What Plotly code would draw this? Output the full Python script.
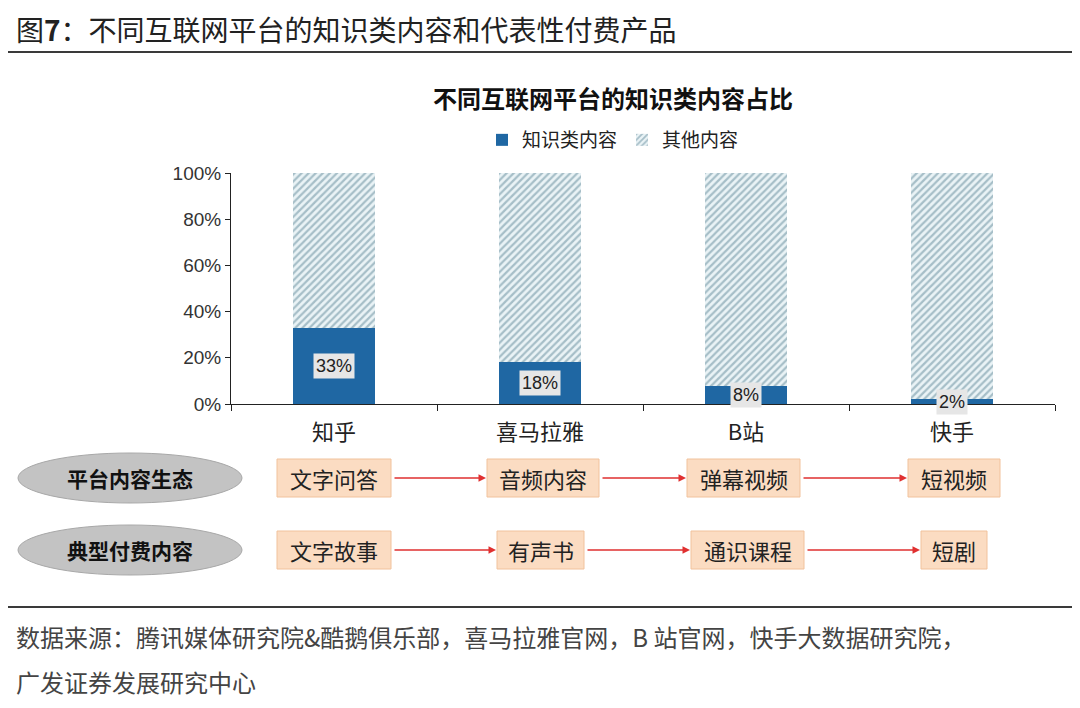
import plotly.graph_objects as go

# 数据
platforms = ["知乎", "喜马拉雅", "B站", "快手"]
knowledge = [0.33, 0.18, 0.08, 0.02]
others = [0.67, 0.82, 0.92, 0.98]
knowledge_labels = ["33%", "18%", "8%", "2%"]

row_titles = ["平台内容生态", "典型付费内容"]
eco_items = ["文字问答", "音频内容", "弹幕视频", "短视频"]
paid_items = ["文字故事", "有声书", "通识课程", "短剧"]

source_lines = [
    "数据来源：腾讯媒体研究院&酷鹅俱乐部，喜马拉雅官网，B 站官网，快手大数据研究院，",
    "广发证券发展研究中心",
]

CJK = "Noto Sans CJK SC"
BLUE = "#1f67a3"
HATCH = "#62899a"

# the page body has an 8px margin, so the figure is drawn 8px smaller
OFF = 8
FW, FH = 1080 - OFF, 708 - OFF

# plot area in reference pixels
L, R, T, B = 231, 1055, 173, 404
W, H = R - L, B - T


def px(x):
    return (x - L) / W


def py(y):
    return (B - y) / H


fig = go.Figure()
fig.add_trace(go.Bar(x=platforms, y=knowledge, name="知识类内容",
                     marker=dict(color=BLUE, line=dict(width=0)), width=0.4))
fig.add_trace(go.Bar(x=platforms, y=others, name="其他内容", width=0.4,
                     marker=dict(color="#eaf3f6", line=dict(width=0),
                                 pattern=dict(shape="/", fgcolor=HATCH, bgcolor="#eaf3f6",
                                              size=5, solidity=0.45))))

# data labels with grey box
for p, v, t in zip(platforms, knowledge, knowledge_labels):
    fig.add_annotation(x=p, y=v / 2, xref="x", yref="y", text=t, showarrow=False,
                       xanchor="center", yanchor="middle",
                       bgcolor="#e6e6e6", borderpad=2,
                       font=dict(family="Liberation Sans", size=18, color="#222"))

shapes = []
# header and footer rules
for y in (52, 607):
    shapes.append(dict(type="line", xref="paper", yref="paper", x0=px(0), x1=px(1080),
                       y0=py(y), y1=py(y), line=dict(color="#3a3a3a", width=2)))


def note(x, y, text, size, color="#222", anchor="center"):
    fig.add_annotation(xref="paper", yref="paper", x=px(x), y=py(y), xanchor=anchor,
                       yanchor="middle", showarrow=False, text=text,
                       font=dict(family=CJK, size=size, color=color))


note(14, 29, "图<b>7</b>：不同互联网平台的知识类内容和代表性付费产品", 28, "#222", "left")
note(613, 97, "<b>不同互联网平台的知识类内容占比</b>", 24, "#111")

# lower diagram: ellipses with row titles
row_y = [478, 550]
for title, yc in zip(row_titles, row_y):
    shapes.append(dict(type="circle", xref="paper", yref="paper",
                       x0=px(18), x1=px(242), y0=py(yc + 25), y1=py(yc - 25),
                       fillcolor="#c3c3c3", line=dict(color="#a8a8a8", width=1)))
    note(130, yc, "<b>" + title + "</b>", 21, "#111")

# boxes and arrows
box_x = [
    [(277, 391), (487, 599), (687, 800), (908, 1000)],
    [(277, 391), (497, 584), (691, 804), (921, 987)],
]
for items, xs, yc in zip([eco_items, paid_items], box_x, row_y):
    for i, (label, (x0, x1)) in enumerate(zip(items, xs)):
        shapes.append(dict(type="rect", xref="paper", yref="paper",
                           x0=px(x0), x1=px(x1), y0=py(yc + 19), y1=py(yc - 19),
                           fillcolor="#fbdcc2", line=dict(color="#f1c29c", width=1)))
        note((x0 + x1) / 2, yc, label, 22, "#222")
        if i < len(items) - 1:
            nx0 = xs[i + 1][0]
            fig.add_annotation(xref="paper", yref="paper", x=px(nx0 - 1), y=py(yc),
                               ax=-(nx0 - 1 - x1 - 2), ay=0, text="", showarrow=True,
                               arrowhead=2, arrowsize=1, arrowwidth=1.5,
                               arrowcolor="#e03030")

for i, line in enumerate(source_lines):
    note(14, 636 + i * 45, line, 24, "#444", "left")

fig.update_layout(
    width=FW, height=FH,
    margin=dict(l=L - OFF, r=1080 - R, t=T - OFF, b=708 - B, autoexpand=False),
    paper_bgcolor="white", plot_bgcolor="white",
    barmode="stack",
    showlegend=True,
    legend=dict(orientation="h", x=px(613), y=py(140), xanchor="center", yanchor="middle",
                font=dict(family=CJK, size=19, color="#222"),
                traceorder="normal"),
    shapes=shapes,
    xaxis=dict(type="category", showline=True, linecolor="#222", linewidth=1,
               ticks="outside", tickson="boundaries", ticklen=6, tickcolor="#222",
               tickfont=dict(family=CJK, size=22, color="#222"), showgrid=False,
               ticklabelstandoff=9),
    yaxis=dict(range=[0, 1], tickvals=[0, 0.2, 0.4, 0.6, 0.8, 1.0], tickformat=".0%",
               showline=True, linecolor="#222", linewidth=1, ticks="outside",
               ticklen=5, tickcolor="#222", showgrid=False, zeroline=False,
               tickfont=dict(family="Liberation Sans", size=19, color="#333")),
)

fig.write_html("out.html")
